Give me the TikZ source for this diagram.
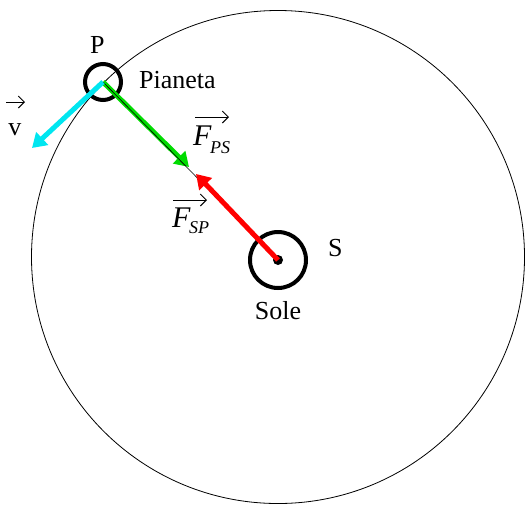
\documentclass[tikz,border=0pt]{standalone}
\usepackage{fontspec}
\setmainfont{Liberation Serif}
\usetikzlibrary{arrows.meta}
\definecolor{fgreen}{RGB}{0,220,0}
\definecolor{fcyan}{RGB}{0,230,240}
\definecolor{fred}{RGB}{255,0,0}
\begin{document}
\begin{tikzpicture}[x=1pt,y=-1pt,
  lab/.style={inner sep=0pt, font=\fontsize{26}{26}\selectfont},
  flab/.style={inner sep=0pt, anchor=base west, font=\fontsize{30}{30}\selectfont\itshape},
  fsub/.style={inner sep=0pt, anchor=base west, font=\fontsize{18}{18}\selectfont\itshape},
  force/.style={line width=5pt, -{Triangle[length=14pt,width=17pt]}},
  vecarrow/.style={line width=1pt, -{Straight Barb[length=6pt,width=12pt]}},
  ring/.style={circle, draw, line width=4pt, inner sep=0pt}]
\useasboundingbox (0,0) rectangle (526,504);
% orbit
\node[circle, draw, line width=0.8pt, inner sep=0pt, minimum size=493pt] (orbit) at (278,257) {};
% bodies
\node[ring, minimum size=36pt] (P) at (103,82) {};
\node[ring, minimum size=56pt] (S) at (278,260) {};
\node[circle, fill, inner sep=0pt, minimum size=10pt] (Sdot) at (S.center) {};
% arrow tips
\coordinate (gtip) at (189,167);
\coordinate (rtip) at (196,174);
\coordinate (ctip) at (32,148);
% forces and velocity
\draw[force, fgreen] (P.center) -- (gtip);
\draw[line width=0.6pt] (P.center) -- (S.center);
\draw[force, fred] (S.center) -- (rtip);
\draw[force, fcyan] (P.center) -- (ctip);
% labels
\node[lab, anchor=base west] (Plab) at (90,53) {P};
\node[lab, anchor=base west] (pianeta) at (139,88) {Pianeta};
\node[lab, anchor=base west] (Slab) at (328,256) {S};
\node[lab, anchor=base] (sole) at (278,319) {Sole};
\node[lab, anchor=base] (vlab) at (15,135) {v};
\coordinate (va) at (6,102);
\coordinate (vb) at (25,102);
\draw[vecarrow] (va) -- (vb);
% F_PS
\node[flab] (fps) at (193,145) {F};
\node[fsub] (fpss) at (210,153) {PS};
\coordinate (fpsa) at (195,117);
\coordinate (fpsb) at (229,117);
\draw[vecarrow] (fpsa) -- (fpsb);
% F_SP
\node[flab] (fsp) at (172,227) {F};
\node[fsub] (fsps) at (189,233) {SP};
\coordinate (fspa) at (173,200);
\coordinate (fspb) at (207,200);
\draw[vecarrow] (fspa) -- (fspb);
\end{tikzpicture}
\end{document}
